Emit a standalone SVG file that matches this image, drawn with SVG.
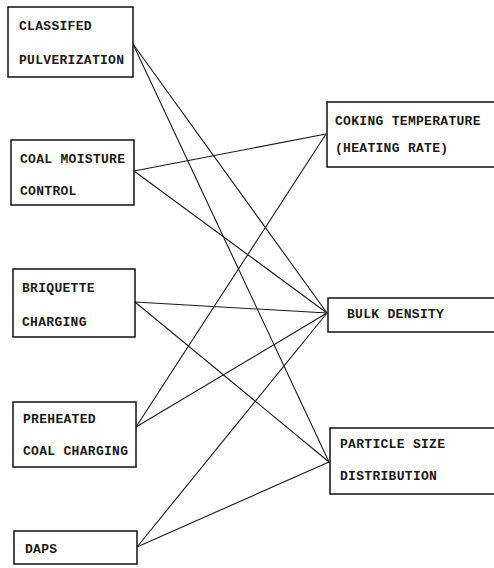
<svg xmlns="http://www.w3.org/2000/svg" width="494" height="568" viewBox="0 0 494 568">
<style>
.box{fill:#fff;stroke:#111;stroke-width:1.5}
.t{font-family:"Liberation Mono","DejaVu Sans Mono",monospace;font-size:13px;font-weight:bold;letter-spacing:0.3px;fill:#1a1a1a}
.c line{stroke:#1a1a1a;stroke-width:1.1}
</style>
<rect width="494" height="568" fill="#fff"/>
<g class="c" id="connectors">
<line x1="133" y1="44" x2="327" y2="313"/>
<line x1="133" y1="44" x2="329" y2="462"/>
<line x1="134" y1="171" x2="326" y2="134"/>
<line x1="134" y1="171" x2="327" y2="313"/>
<line x1="135" y1="302" x2="327" y2="313"/>
<line x1="135" y1="302" x2="329" y2="462"/>
<line x1="136" y1="427" x2="326" y2="134"/>
<line x1="136" y1="427" x2="327" y2="313"/>
<line x1="137" y1="547" x2="327" y2="313"/>
<line x1="137" y1="547" x2="329" y2="462"/>
</g>
<g id="classified">
<rect class="box" x="8" y="7" width="125" height="70"/>
<text class="t" x="19" y="30">CLASSIFED</text>
<text class="t" x="19" y="64">PULVERIZATION</text>
</g>
<g id="coal-moisture">
<rect class="box" x="11" y="140" width="123" height="65"/>
<text class="t" x="20" y="163">COAL MOISTURE</text>
<text class="t" x="20" y="195">CONTROL</text>
</g>
<g id="briquette">
<rect class="box" x="13" y="269" width="122" height="68"/>
<text class="t" x="22" y="292">BRIQUETTE</text>
<text class="t" x="22" y="326">CHARGING</text>
</g>
<g id="preheated">
<rect class="box" x="13" y="402" width="123" height="65"/>
<text class="t" x="23" y="423">PREHEATED</text>
<text class="t" x="23" y="455">COAL CHARGING</text>
</g>
<g id="daps">
<rect class="box" x="14" y="531" width="123" height="33"/>
<text class="t" x="25" y="553">DAPS</text>
</g>
<g id="coking">
<rect class="box" x="327" y="102" width="180" height="65"/>
<text class="t" x="335" y="125">COKING TEMPERATURE</text>
<text class="t" x="335" y="152">(HEATING RATE)</text>
</g>
<g id="bulk">
<rect class="box" x="328" y="298" width="180" height="34"/>
<text class="t" x="347" y="318">BULK DENSITY</text>
</g>
<g id="particle">
<rect class="box" x="330" y="428" width="180" height="66"/>
<text class="t" x="340" y="448">PARTICLE SIZE</text>
<text class="t" x="340" y="480">DISTRIBUTION</text>
</g>
</svg>
